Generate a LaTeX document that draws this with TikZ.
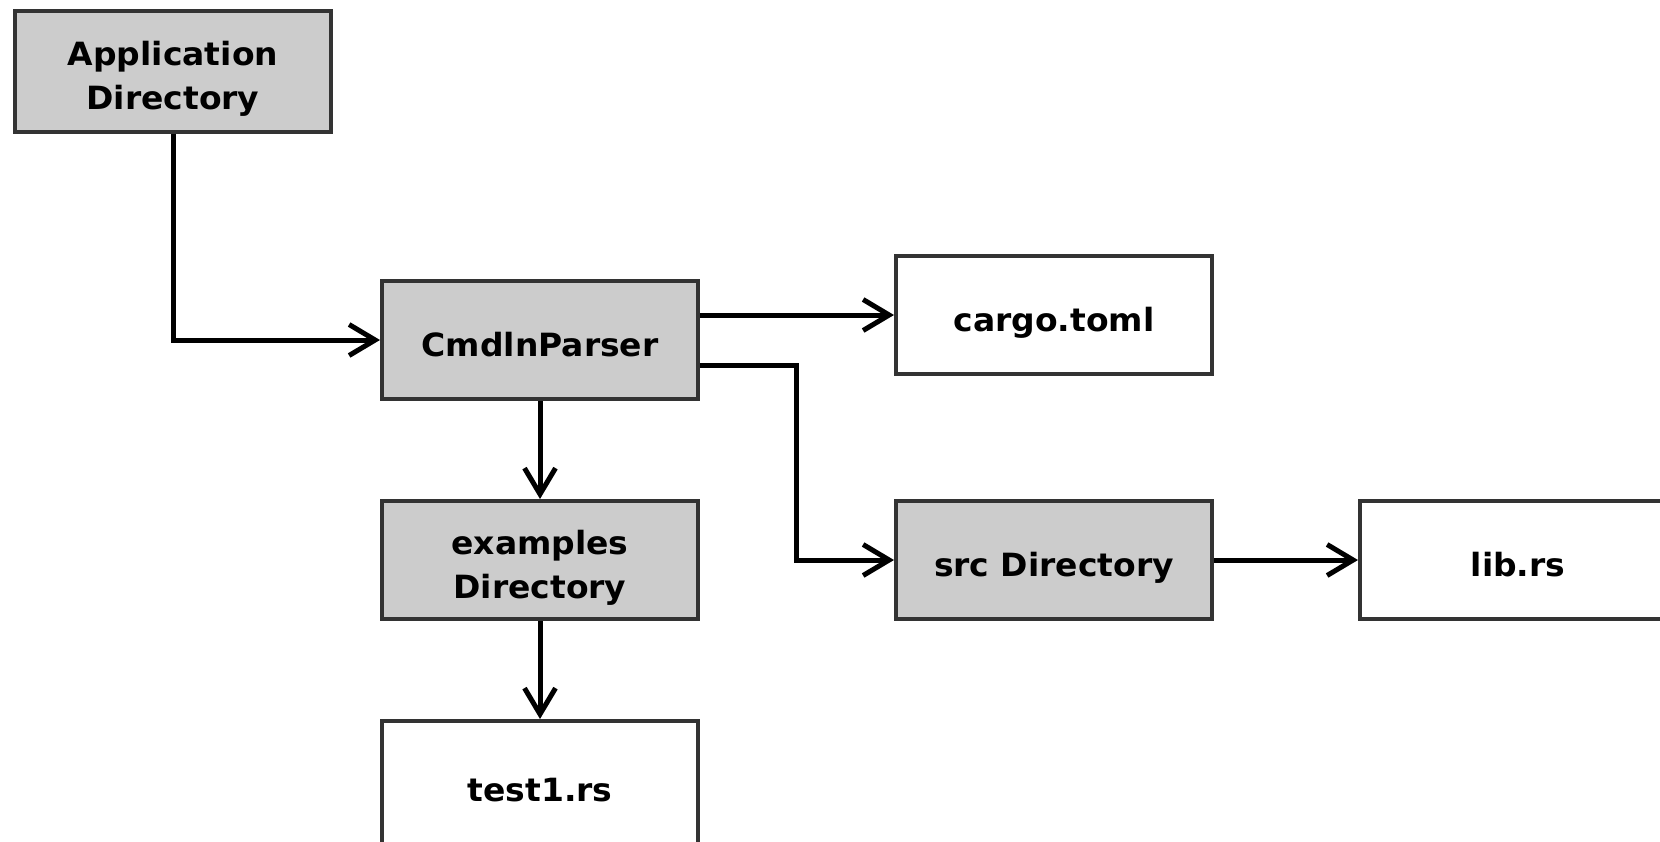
\documentclass[tikz,border=0pt]{standalone}
\usepackage{fontspec}
\newfontfamily\boxfont{DejaVu Sans}[FakeStretch=1.03]
\usetikzlibrary{arrows.meta}
\definecolor{boxgray}{HTML}{CCCCCC}
\definecolor{edgegray}{HTML}{333333}
\newcommand\lowtext[1]{\raisebox{-8pt}[\height][\depth]{\begin{tabular}{@{}c@{}}#1\end{tabular}}}
\begin{document}
\begin{tikzpicture}[x=1pt,y=-1pt,
  box/.style={draw=edgegray, line width=4pt, minimum width=316pt, minimum height=118pt,
    inner sep=0pt, font=\boxfont\bfseries\fontsize{32}{44}\selectfont},
  dirbox/.style={box, fill=boxgray},
  filebox/.style={box, fill=white},
  conn/.style={line width=5pt, draw=black, -{Straight Barb[length=26pt,width=31pt]}}]
\fill[white] (0,0) rectangle (1660,841);
\useasboundingbox (0,0) rectangle (1660,841);
\node[dirbox, minimum height=121pt] (app) at (173,71) {\lowtext{Application\\Directory}};
\node[dirbox] (cmd) at (540,340) {\lowtext{CmdlnParser}};
\node[filebox] (cargo) at (1054,315) {\lowtext{cargo.toml}};
\node[dirbox] (ex) at (540,560) {\lowtext{examples\\Directory}};
\node[dirbox] (src) at (1054,560) {\lowtext{src Directory}};
\node[filebox] (lib) at (1518,560) {\lowtext{lib.rs}};
\node[filebox, minimum height=128pt] (test) at (540,785) {\lowtext{test1.rs}};
\coordinate (bend) at (796,365);
\draw[conn] (app.south) |- (cmd.west);
\draw[conn] (cmd.east |- cargo.west) -- (cargo.west);
\draw[conn] (cmd.east |- bend) -- (bend) |- (src.west);
\draw[conn] (cmd) -- (ex);
\draw[conn] (ex) -- (test);
\draw[conn] (src) -- (lib);
\end{tikzpicture}
\end{document}
